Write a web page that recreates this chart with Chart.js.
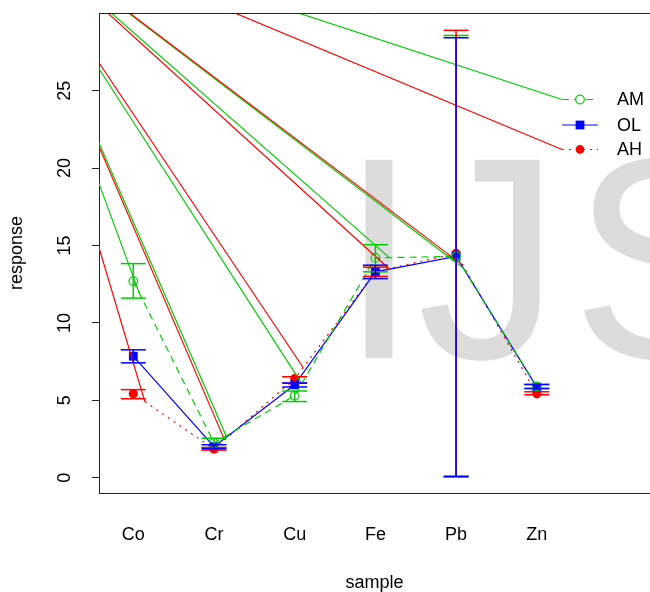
<!DOCTYPE html>
<html>
<head>
<meta charset="utf-8">
<script src="https://cdn.jsdelivr.net/npm/chart.js@4"></script>
<style>
html, body { margin: 0; padding: 0; background: #fff; overflow: hidden; }
canvas { display: block; }
</style>
</head>
<body>
<canvas id="chart" width="650" height="592"></canvas>
<script>
// data
const samples = ['Co', 'Cr', 'Cu', 'Fe', 'Pb', 'Zn'];
const groups = ['AM', 'OL', 'AH'];
const amMean = [12.7, 2.25, 5.3, 14.2, 14.3, 5.9];
const amLow  = [11.6, 1.95, 4.92, 13.3, 0.1, 5.77];
const amHigh = [13.83, 2.55, 5.6, 15.05, 28.57, 6.03];
const olMean = [7.85, 2.0, 6.0, 13.3, 14.3, 5.85];
const olLow  = [7.42, 1.87, 5.86, 12.86, 0.08, 5.76];
const olHigh = [8.26, 2.13, 6.12, 13.73, 28.42, 6.02];
const ahMean = [5.43, 1.85, 6.4, 13.3, 14.5, 5.42];
const ahLow  = [5.1, 1.78, 6.1, 13.0, 0.05, 5.36];
const ahHigh = [5.69, 1.95, 6.52, 13.6, 28.9, 5.55];
const yTicks = [0, 5, 10, 15, 20, 25];
// stray segments all start from one point far off the plot
const strayOrigin = [-0.652, 36.35];

const green = 'rgb(0,205,0)';
const blue = '#0000ff';
const red = '#ff0000';
const font = { family: '"Liberation Sans", Arial, sans-serif', size: 18 };

const xy = vals => vals.map((v, i) => ({ x: i + 1, y: v }));

const series = [
    { name: 'AM', mean: amMean, low: amLow, high: amHigh, color: green, dash: [7, 5], stray: true },
    { name: 'OL', mean: olMean, low: olLow, high: olHigh, color: blue, dash: [], stray: false },
    { name: 'AH', mean: ahMean, low: ahLow, high: ahHigh, color: red, dash: [2, 5], stray: true }
];

const legendRows = [99.5, 125, 149.5];

function line(ctx, x0, y0, x1, y1) {
    ctx.beginPath();
    ctx.moveTo(x0, y0);
    ctx.lineTo(x1, y1);
    ctx.stroke();
}

function noPadding(s) {
    s.paddingTop = 0;
    s.paddingBottom = 0;
    s.paddingLeft = 0;
    s.paddingRight = 0;
}

const extras = {
    id: 'extras',
    beforeDatasetsDraw(chart) {
        const ctx = chart.ctx;
        ctx.save();
        ctx.fillStyle = '#dcdcdc';
        ctx.font = '288px "Liberation Sans", Arial, sans-serif';
        ctx.textBaseline = 'alphabetic';
        ctx.fillText('I', 339, 358);
        ctx.fillText('J', 417, 358);
        ctx.fillText('S', 571, 358);
        ctx.restore();
    },
    afterDatasetsDraw(chart) {
        const { ctx, chartArea: a, scales: { x, y } } = chart;
        ctx.save();
        ctx.beginPath();
        ctx.rect(a.left, a.top, a.right - a.left, a.bottom - a.top);
        ctx.clip();

        // stray lines from the far point to each segment start
        const ox = x.getPixelForValue(strayOrigin[0]);
        const oy = y.getPixelForValue(strayOrigin[1]);
        const gap = 14;
        ctx.lineWidth = 1.2;
        series.forEach((s, si) => {
            if (!s.stray) return;
            ctx.strokeStyle = s.color;
            for (let i = 0; i < s.mean.length - 1; i++) {
                const x0 = x.getPixelForValue(i + 1), y0 = y.getPixelForValue(s.mean[i]);
                const x1 = x.getPixelForValue(i + 2), y1 = y.getPixelForValue(s.mean[i + 1]);
                const d = Math.hypot(x1 - x0, y1 - y0);
                line(ctx, ox, oy, x0 + (x1 - x0) / d * gap, y0 + (y1 - y0) / d * gap);
            }
            line(ctx, ox, oy, 562, legendRows[si]);
        });

        // error bars
        ctx.lineWidth = 1.5;
        [series[0], series[2], series[1]].forEach(s => {
            ctx.strokeStyle = s.color;
            s.mean.forEach((_, i) => {
                const px = x.getPixelForValue(i + 1);
                const lo = y.getPixelForValue(s.low[i]);
                const hi = y.getPixelForValue(s.high[i]);
                line(ctx, px, lo, px, hi);
                line(ctx, px - 12.5, lo, px + 12.5, lo);
                line(ctx, px - 12.5, hi, px + 12.5, hi);
            });
        });
        ctx.restore();
    },
    afterDraw(chart) {
        const { ctx, chartArea: a } = chart;
        ctx.save();
        ctx.strokeStyle = '#222';
        ctx.lineWidth = 1;
        line(ctx, a.left, Math.round(a.top) + 0.5, chart.width, Math.round(a.top) + 0.5);

        // legend
        series.forEach((s, i) => {
            const ly = legendRows[i];
            ctx.strokeStyle = s.color;
            ctx.fillStyle = s.color;
            ctx.lineWidth = 1.2;
            ctx.setLineDash(s.dash);
            line(ctx, 562, ly, 598, ly);
            ctx.setLineDash([]);
            if (s.name === 'AM') {
                ctx.fillStyle = '#fff';
                ctx.beginPath();
                ctx.arc(580, ly, 4.3, 0, Math.PI * 2);
                ctx.fill();
                ctx.stroke();
            } else if (s.name === 'OL') {
                ctx.fillRect(580 - 4.4, ly - 4.4, 8.8, 8.8);
            } else {
                ctx.beginPath();
                ctx.arc(580, ly, 4.4, 0, Math.PI * 2);
                ctx.fill();
            }
            ctx.fillStyle = '#000';
            ctx.font = '18px "Liberation Sans", Arial, sans-serif';
            ctx.textBaseline = 'middle';
            ctx.fillText(groups[i], 617, ly + 1);
        });
        ctx.restore();
    }
};

new Chart(document.getElementById('chart'), {
    type: 'scatter',
    data: {
        datasets: [
            {
                label: 'AM', data: xy(amMean), showLine: true,
                borderColor: green, borderWidth: 1.2, borderDash: [7, 5],
                pointStyle: 'circle', pointRadius: 4.3, pointBorderWidth: 1.2,
                pointBorderColor: green, pointBackgroundColor: 'rgba(0,0,0,0)'
            },
            {
                label: 'OL', data: xy(olMean), showLine: true,
                borderColor: blue, borderWidth: 1.2,
                pointStyle: 'rect', pointRadius: 6.2, pointBorderWidth: 0,
                pointBackgroundColor: blue
            },
            {
                label: 'AH', data: xy(ahMean), showLine: true,
                borderColor: red, borderWidth: 1.2, borderDash: [2, 5],
                pointStyle: 'circle', pointRadius: 4.6, pointBorderWidth: 0,
                pointBackgroundColor: red
            }
        ]
    },
    options: {
        responsive: false,
        animation: false,
        layout: { autoPadding: false, padding: { top: 13, left: 0, right: 0, bottom: 0 } },
        plugins: { legend: { display: false }, tooltip: { enabled: false } },
        scales: {
            x: {
                type: 'linear', min: 0.575, max: 7.403,
                afterFit: s => { s.height = 99; noPadding(s); },
                afterBuildTicks: s => { s.ticks = samples.map((_, i) => ({ value: i + 1 })); },
                grid: { display: false, drawTicks: false },
                border: { display: true, color: '#222', width: 1 },
                ticks: { callback: v => samples[v - 1], font, color: '#000', padding: 31, autoSkip: false, maxRotation: 0 },
                title: { display: true, text: 'sample', font, color: '#000', padding: { top: 0, bottom: -2 } }
            },
            y: {
                type: 'linear', min: -0.988, max: 30.02,
                afterFit: s => { s.width = 99; noPadding(s); },
                afterBuildTicks: s => { s.ticks = yTicks.map(v => ({ value: v })); },
                grid: { drawOnChartArea: false, drawTicks: true, tickLength: 7, color: '#222', lineWidth: 1 },
                border: { display: true, color: '#222', width: 1 },
                ticks: { font, color: '#000', minRotation: 90, maxRotation: 90, crossAlign: 'center', padding: 17 },
                title: { display: true, text: 'response', font, color: '#000', padding: { top: 6, bottom: 0 } }
            }
        }
    },
    plugins: [extras]
});
</script>
</body>
</html>
